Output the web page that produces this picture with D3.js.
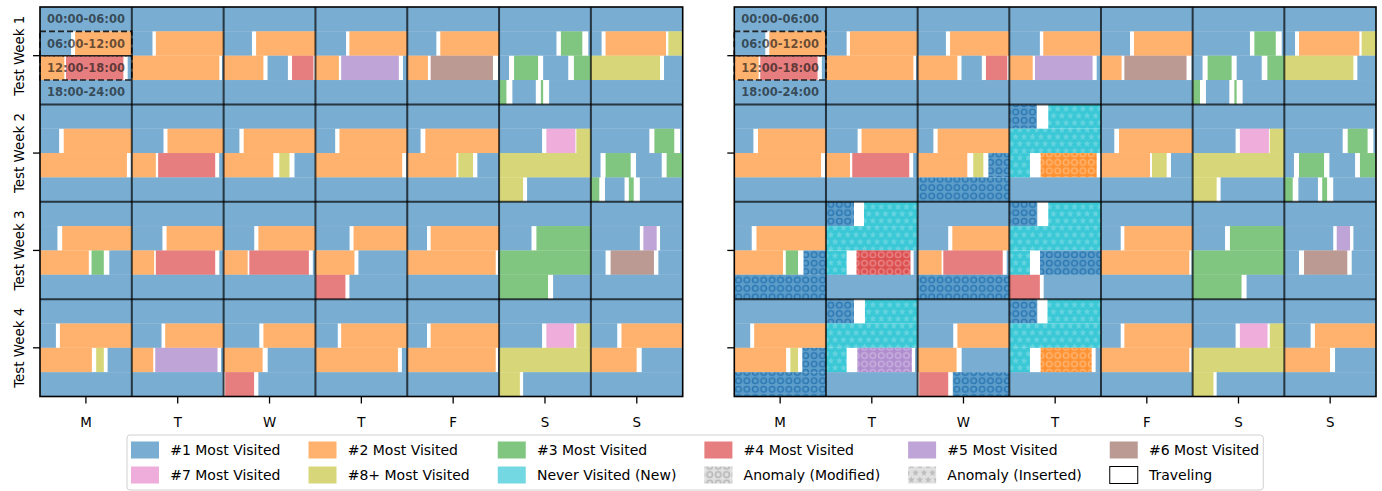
<!DOCTYPE html>
<html>
<head>
<meta charset="utf-8">
<script src="https://cdn.jsdelivr.net/npm/d3@7"></script>
<style>
  body { margin: 0; background: #fff; }
  svg { display: block; font-family: "DejaVu Sans", sans-serif; }
</style>
</head>
<body>
<svg id="drawing_region" width="1382" height="491"></svg>
<script>
const dayLabels = ['M', 'T', 'W', 'T', 'F', 'S', 'S'];
const weekLabels = ['Test Week 1', 'Test Week 2', 'Test Week 3', 'Test Week 4'];
const quarterLabels = ['00:00-06:00', '06:00-12:00', '12:00-18:00', '18:00-24:00'];
const categoryNames = ['#1 Most Visited', '#2 Most Visited', '#3 Most Visited', '#4 Most Visited',
    '#5 Most Visited', '#6 Most Visited', '#7 Most Visited', '#8+ Most Visited', 'Never Visited (New)'];
const extraNames = ['Anomaly (Modified)', 'Anomaly (Inserted)', 'Traveling'];

// one entry per day: [start hour, end hour, place rank (9 = never visited), anomaly mark]
// hours not covered by a visit are traveling
const week1 = [
    [[0,8.03,1],[8.29,13.59,2],[13.7,17.45,4],[17.73,24,1]],
    [[0,7.35,1],[7.57,17.72,2],[17.89,24,1]],
    [[0,7.85,1],[8.12,14.6,2],[14.87,16.2,1],[16.47,17.87,4],[18.02,24,1]],
    [[0,8.0,1],[8.22,13.53,2],[13.68,17.45,5],[17.72,24,1]],
    [[0,7.9,1],[8.16,13.35,2],[13.53,17.6,6],[17.93,24,1]],
    [[0,9.75,1],[10.04,11.44,3],[11.83,12.65,1],[12.98,14.55,3],[14.88,16.52,1],[16.89,18.48,3],[18.87,20.4,1],[20.73,20.88,3],[21.27,24,1]],
    [[0,6.7,1],[6.96,10.91,2],[11.06,16.52,8],[16.78,24,1]]
];
const week2 = [
    [[0,7.25,1],[7.55,17.68,2],[17.94,24,1]],
    [[0,8.07,1],[8.33,13.57,2],[13.72,17.45,4],[17.71,24,1]],
    [[0,7.03,1],[7.31,15.25,2],[15.64,16.3,8],[16.63,24,1]],
    [[0,7.29,1],[7.57,17.67,2],[17.93,24,1]],
    [[0,6.87,1],[7.18,15.21,2],[15.34,16.3,8],[16.58,24,1]],
    [[0,8.81,1],[9.09,10.99,7],[11.05,19.57,8],[19.83,24,1]],
    [[0,9.82,1],[10.15,11.45,3],[11.83,12.63,1],[12.96,14.6,3],[14.95,16.63,1],[16.95,18.55,3],[18.92,20.2,1],[20.48,20.8,3],[21.2,24,1]]
];
const week3 = [
    [[0,7.14,1],[7.45,15.19,2],[15.37,16.17,3],[16.53,24,1]],
    [[0,8.0,1],[8.27,13.46,2],[13.57,17.45,4],[17.72,24,1]],
    [[0,8.0,1],[8.27,13.57,2],[13.68,17.57,4],[17.83,24,1]],
    [[0,8.23,1],[8.49,14.55,2],[14.81,17.97,1],[18.03,19.96,4],[20.22,24,1]],
    [[0,7.29,1],[7.53,17.78,2],[17.93,24,1]],
    [[0,8.12,1],[8.44,21.2,3],[21.53,24,1]],
    [[0,9.2,1],[9.43,10.3,5],[10.52,12.96,1],[13.29,16.12,6],[16.41,24,1]]
];
const week4 = [
    [[0,7.04,1],[7.3,15.39,2],[15.67,16.17,8],[16.42,24,1]],
    [[0,7.94,1],[8.18,13.4,2],[13.53,17.6,5],[17.83,24,1]],
    [[0,8.33,1],[8.6,14.55,2],[14.88,18.0,1],[18.1,19.99,4],[20.27,24,1]],
    [[0,7.46,1],[7.68,17.39,2],[17.65,24,1]],
    [[0,7.29,1],[7.53,17.78,2],[17.93,24,1]],
    [[0,8.81,1],[9.09,10.9,7],[11.05,19.36,8],[19.57,24,1]],
    [[0,7.72,1],[8.0,14.99,2],[15.32,24,1]]
];

// days that differ in the right panel (week / day are 0-based)
const anomalyDays = [
    {week:1, day:2, segs:[[0,7.03,1],[7.31,15.25,2],[15.64,16.3,8],[16.63,24,1,'mod']]},
    {week:1, day:3, segs:[[0,1.8,1,'mod'],[2.55,13.35,9,'ins'],[14.05,17.72,2,'mod'],[18.0,24,1]]},
    {week:2, day:0, segs:[[0,7.14,1],[7.45,15.19,2],[15.37,16.17,3],[16.53,24,1,'mod']]},
    {week:2, day:1, segs:[[0,1.83,1,'mod'],[2.49,13.35,9,'ins'],[14.0,17.53,4,'mod'],[17.74,24,1]]},
    {week:2, day:2, segs:[[0,8.0,1],[8.27,13.57,2],[13.68,17.57,4],[17.83,18,1],[18,24,1,'mod']]},
    {week:2, day:3, segs:[[0,1.83,1,'mod'],[2.55,13.35,9,'ins'],[14.01,18,1,'mod'],[18,20.0,4],[20.25,24,1]]},
    {week:3, day:0, segs:[[0,7.04,1],[7.3,15.39,2],[15.67,16.17,8],[16.45,24,1,'mod']]},
    {week:3, day:1, segs:[[0,1.83,1,'mod'],[2.55,13.35,9,'ins'],[14.05,17.62,5,'mod'],[17.83,24,1]]},
    {week:3, day:2, segs:[[0,8.33,1],[8.6,14.55,2],[14.88,18.0,1],[18.1,20.0,4],[20.3,24,1,'mod']]},
    {week:3, day:3, segs:[[0,1.83,1,'mod'],[2.5,13.35,9,'ins'],[14.05,17.39,2,'mod'],[17.65,24,1]]}
];

const leftWeeks = [week1, week2, week3, week4];
const rightWeeks = leftWeeks.map((wk, w) => wk.map((day, d) => {
    const a = anomalyDays.find(e => e.week === w && e.day === d);
    return a ? a.segs : day;
}));

const color = d3.scaleOrdinal()
    .domain(d3.range(1, 10))
    .range(['#1f77b4', '#ff7f0e', '#2ca02c', '#d62728', '#9467bd', '#8c564b', '#e377c2', '#bcbd22', '#17becf']);

const svg = d3.select('#drawing_region');
const defs = svg.append('defs');

function starPath(cx, cy, R, r) {
    const pts = d3.range(10).map(i => {
        const a = -Math.PI / 2 + i * Math.PI / 5;
        const rad = i % 2 ? r : R;
        return [cx + rad * Math.cos(a), cy + rad * Math.sin(a)];
    });
    return 'M' + pts.join('L') + 'Z';
}

function ringPattern(id, bg, bgOpacity, ring, ringOpacity) {
    const p = defs.append('pattern').attr('id', id)
        .attr('patternUnits', 'userSpaceOnUse').attr('width', 8.4).attr('height', 8.4);
    p.append('rect').attr('width', 8.4).attr('height', 8.4).attr('fill', '#fff');
    p.append('rect').attr('width', 8.4).attr('height', 8.4).attr('fill', bg).attr('fill-opacity', bgOpacity);
    p.append('circle').attr('cx', 4.2).attr('cy', 4.2).attr('r', 2.8)
        .attr('fill', 'none').attr('stroke', ring).attr('stroke-opacity', ringOpacity).attr('stroke-width', 1.5);
}

function starPattern(id, bg, bgOpacity, star, starOpacity) {
    const p = defs.append('pattern').attr('id', id)
        .attr('patternUnits', 'userSpaceOnUse').attr('width', 8.4).attr('height', 14);
    p.append('rect').attr('width', 8.4).attr('height', 14).attr('fill', '#fff');
    p.append('rect').attr('width', 8.4).attr('height', 14).attr('fill', bg).attr('fill-opacity', bgOpacity);
    [[4.2, 3.8], [0, 10.8], [8.4, 10.8]].forEach(c => {
        p.append('path').attr('d', starPath(c[0], c[1], 3.5, 1.6))
            .attr('fill', star).attr('fill-opacity', starOpacity);
    });
}

ringPattern('mod1', color(1), 0.72, '#1f6fae', 0.8);
ringPattern('mod2', color(2), 0.85, '#fff', 0.3);
ringPattern('mod4', color(4), 0.82, '#fff', 0.3);
ringPattern('mod5', color(5), 0.75, '#fff', 0.3);
ringPattern('modLegend', '#bbb', 0.45, '#999', 0.6);
starPattern('ins9', color(9), 0.85, '#fff', 0.22);
starPattern('insLegend', '#bbb', 0.45, '#999', 0.5);

class WeekGrid {

    constructor(config, data) {
        this.config = {
            parent: config.parent,
            left: config.left,
            top: config.top,
            width: config.width,
            height: config.height,
            yLabels: config.yLabels || false
        };
        this.data = data;
        this.init();
    }

    init() {
        let self = this;

        self.svg = d3.select(self.config.parent);
        self.chart = self.svg.append('g')
            .attr('transform', `translate(${self.config.left}, ${self.config.top})`);

        self.xscale = d3.scaleBand()
            .domain(d3.range(7))
            .range([0, self.config.width]);

        self.yscale = d3.scaleBand()
            .domain(d3.range(4))
            .range([0, self.config.height]);

        self.qscale = d3.scaleBand()
            .domain(d3.range(4))
            .range([0, self.yscale.bandwidth()]);

        self.hscale = d3.scaleLinear()
            .domain([0, 6])
            .range([0, self.xscale.bandwidth()]);

        self.xaxis = d3.axisBottom(self.xscale)
            .tickFormat(i => dayLabels[i])
            .tickSize(7)
            .tickPadding(14)
            .tickSizeOuter(0);

        self.yaxis = d3.axisLeft(self.yscale)
            .tickFormat('')
            .tickSize(7)
            .tickSizeOuter(0);
    }

    render() {
        let self = this;

        const pieces = [];
        self.data.forEach((week, w) => week.forEach((day, d) => day.forEach(s => {
            for (let q = 0; q < 4; q++) {
                const lo = Math.max(s[0], 6 * q), hi = Math.min(s[1], 6 * q + 6);
                if (hi > lo) pieces.push({w: w, d: d, q: q, lo: lo - 6 * q, hi: hi - 6 * q, cat: s[2], mark: s[3]});
            }
        })));

        self.chart.append('rect')
            .attr('width', self.config.width)
            .attr('height', self.config.height)
            .attr('fill', '#fff');

        self.chart.append('g')
            .selectAll('rect')
            .data(pieces)
            .join('rect')
            .attr('x', p => self.xscale(p.d) + self.hscale(p.lo))
            .attr('y', p => self.yscale(p.w) + self.qscale(p.q))
            .attr('width', p => self.hscale(p.hi) - self.hscale(p.lo))
            .attr('height', self.qscale.bandwidth())
            .attr('fill', p => p.mark ? `url(#${p.mark}${p.cat})` : color(p.cat))
            .attr('fill-opacity', p => p.mark ? 1 : 0.6);

        // quarter labels in the first cell
        const cell = self.chart.append('g');
        cell.selectAll('rect')
            .data([1, 2])
            .join('rect')
            .attr('x', self.xscale(0))
            .attr('y', q => self.qscale(q))
            .attr('width', self.xscale.bandwidth())
            .attr('height', self.qscale.bandwidth())
            .attr('fill', 'none')
            .attr('stroke', '#222')
            .attr('stroke-width', 1.6)
            .attr('stroke-dasharray', '6,3');
        cell.selectAll('text')
            .data(quarterLabels)
            .join('text')
            .attr('x', self.xscale(0) + self.xscale.bandwidth() / 2)
            .attr('y', (t, q) => self.qscale(q) + self.qscale.bandwidth() / 2)
            .attr('dy', '0.36em')
            .attr('text-anchor', 'middle')
            .attr('font-size', '11.5px')
            .attr('font-weight', 'bold')
            .attr('fill', '#111')
            .attr('fill-opacity', 0.65)
            .text(t => t);

        // grid between days and weeks
        self.chart.append('g')
            .selectAll('line')
            .data(d3.range(1, 7))
            .join('line')
            .attr('x1', d => self.xscale(d))
            .attr('x2', d => self.xscale(d))
            .attr('y1', 0)
            .attr('y2', self.config.height)
            .attr('stroke', '#000')
            .attr('stroke-opacity', 0.7)
            .attr('stroke-width', 2);
        self.chart.append('g')
            .selectAll('line')
            .data(d3.range(1, 4))
            .join('line')
            .attr('x1', 0)
            .attr('x2', self.config.width)
            .attr('y1', w => self.yscale(w))
            .attr('y2', w => self.yscale(w))
            .attr('stroke', '#000')
            .attr('stroke-opacity', 0.7)
            .attr('stroke-width', 2);
        self.chart.append('rect')
            .attr('width', self.config.width)
            .attr('height', self.config.height)
            .attr('fill', 'none')
            .attr('stroke', '#000')
            .attr('stroke-width', 1.6);

        const xg = self.chart.append('g')
            .attr('transform', `translate(0, ${self.config.height})`)
            .call(self.xaxis);
        const yg = self.chart.append('g')
            .call(self.yaxis);
        [xg, yg].forEach(g => {
            g.select('.domain').remove();
            g.selectAll('.tick line').attr('stroke', '#000').attr('stroke-width', 1.3);
            g.selectAll('.tick text')
                .attr('fill', '#000')
                .attr('font-size', '13.4px')
                .attr('font-family', '"DejaVu Sans", sans-serif');
        });

        if (self.config.yLabels) {
            self.chart.append('g')
                .selectAll('text')
                .data(weekLabels)
                .join('text')
                .attr('transform', (t, w) =>
                    `translate(-16.5, ${self.yscale(w) + self.yscale.bandwidth() / 2}) rotate(-90)`)
                .attr('text-anchor', 'middle')
                .attr('font-size', '13.4px')
                .attr('fill', '#000')
                .text(t => t);
        }
    }
}

const leftGrid = new WeekGrid({parent: '#drawing_region', left: 40, top: 7, width: 642.7, height: 389.5, yLabels: true}, leftWeeks);
leftGrid.render();
const rightGrid = new WeekGrid({parent: '#drawing_region', left: 734.3, top: 7, width: 641.7, height: 389.5}, rightWeeks);
rightGrid.render();

// legend: 6 columns, 2 rows
const legendItems = categoryNames.concat(extraNames).map((name, i) => ({
    name: name,
    col: i % 6,
    row: Math.floor(i / 6),
    fill: i < 9 ? color(i + 1) : (i === 9 ? 'url(#modLegend)' : (i === 10 ? 'url(#insLegend)' : '#fff')),
    opacity: i < 9 ? 0.6 : 1,
    stroke: i === 11 ? '#000' : 'none'
}));

const fs = 14;
const legend = svg.append('g');
const legendBox = legend.append('rect');
const labels = legend.selectAll('text.item')
    .data(legendItems)
    .join('text')
    .attr('class', 'item')
    .attr('font-size', fs + 'px')
    .attr('fill', '#000')
    .text(d => d.name);
const colWidths = d3.range(6).map(c => d3.max(labels.filter(d => d.col === c).nodes(), n => n.getComputedTextLength()));
const handleW = 2 * fs, textPad = 0.8 * fs, colGap = 2 * fs, pad = 4;
const colX = [];
let cx = pad;
colWidths.forEach(w => { colX.push(cx); cx += handleW + textPad + w + colGap; });
const itemsW = cx - colGap;
const itemsLeft = 131;
const rowY = [450, 475];

legendBox
    .attr('x', itemsLeft - pad)
    .attr('y', 435)
    .attr('width', itemsW + pad)
    .attr('height', 55)
    .attr('rx', 3)
    .attr('fill', '#fff')
    .attr('stroke', '#d0d0d0')
    .attr('stroke-width', 1);

legend.selectAll('rect.swatch')
    .data(legendItems)
    .join('rect')
    .attr('class', 'swatch')
    .attr('x', d => itemsLeft - pad + colX[d.col])
    .attr('y', d => rowY[d.row] - 8.5)
    .attr('width', handleW)
    .attr('height', 17)
    .attr('fill', d => d.fill)
    .attr('fill-opacity', d => d.opacity)
    .attr('stroke', d => d.stroke)
    .attr('stroke-width', 1);

labels
    .attr('x', d => itemsLeft - pad + colX[d.col] + handleW + textPad)
    .attr('y', d => rowY[d.row])
    .attr('dy', '0.36em');
</script>
</body>
</html>
